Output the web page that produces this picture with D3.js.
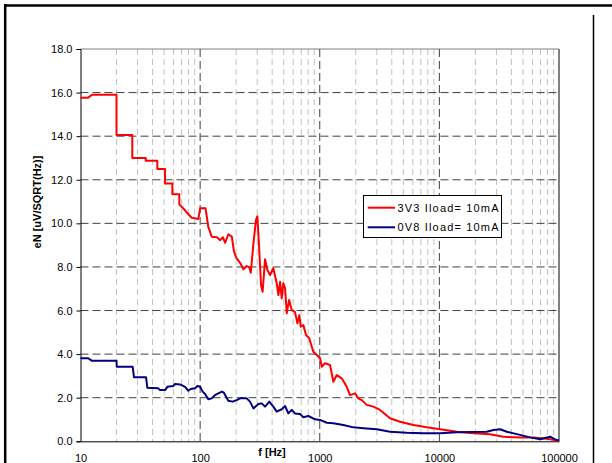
<!DOCTYPE html>
<html>
<head>
<meta charset="utf-8">
<script src="https://cdn.jsdelivr.net/npm/d3@7"></script>
<style>
  body { margin: 0; background: #fff; }
  svg { display: block; font-family: "Liberation Sans", Arial, sans-serif; }
  .tick text { font-size: 11px; fill: #000; }
</style>
</head>
<body>
<div id="chart"></div>
<script>
// 3V3 rail, Iload = 10mA
const redFreq = [10, 11.5, 12.5, 20, 20, 27.1, 27.1, 35.1, 35.1, 43.9, 43.9, 50.9, 50.9, 58.6, 58.6, 67, 67, 74.8,
  77.3, 85.1, 96.6, 100, 111, 117, 125, 138, 147, 155, 162, 172, 184, 192, 202, 216, 230, 245, 258, 265,
  279, 293, 301, 311, 323, 333, 349, 365, 384, 409, 437, 451, 466, 481, 496, 513, 530, 554, 583, 621, 650,
  675, 693, 729, 768, 818, 884, 944, 1006, 1040, 1107, 1219, 1300, 1387, 1527, 1682, 1791, 1972, 2102,
  2245, 2471, 2806, 3192, 3870, 4690, 6066, 7850, 10140, 14000, 19250, 26540, 34300, 47300, 61100, 79100, 100000];
const redVal = [15.76, 15.76, 15.9, 15.9, 14.05, 14.05, 13.0, 13.0, 12.87, 12.87, 12.49, 12.49, 11.83, 11.83, 11.33, 11.33, 10.87, 10.6,
  10.5, 10.26, 10.2, 10.69, 10.69, 9.84, 9.39, 9.36, 9.23, 9.36, 9.11, 9.5, 9.39, 8.7, 8.39, 8.19, 7.89, 8.04, 7.98, 7.73,
  9.08, 10.15, 10.33, 8.93, 7.17, 6.86, 8.35, 7.86, 7.63, 7.94, 7.25, 6.71, 7.32, 6.56, 7.25, 7.02, 5.87, 6.48, 6.02, 5.94, 5.41,
  5.79, 5.26, 5.33, 4.88, 4.72, 4.11, 3.96, 3.81, 3.42, 3.58, 3.5, 2.73, 3.04, 2.89, 2.5, 2.12, 2.2, 1.97,
  1.89, 1.67, 1.59, 1.44, 1.06, 0.9, 0.75, 0.64, 0.55, 0.44, 0.37, 0.32, 0.21, 0.18, 0.17, 0.12, 0.03];

// 0V8 rail, Iload = 10mA
const blueFreq = [10, 11.6, 12.4, 20, 20.1, 27.3, 28, 35.3, 36.2, 44.7, 46.2, 50.9, 53.2, 59.7, 61.7, 67.9, 74.8, 79.7, 83.4,
  90.6, 94.8, 100, 105, 110, 117, 125, 133, 142, 152, 158, 172, 187, 202, 216, 245, 261, 279, 307, 327, 349,
  379, 409, 437, 481, 513, 546, 583, 621, 684, 729, 803, 914, 1006, 1146, 1300, 1574, 1910, 2317, 3000,
  3870, 5340, 7350, 10140, 14000, 19250, 24900, 28300, 32200, 36600, 44400, 57300, 69500, 84300, 92700, 100000];
const blueVal = [3.81, 3.81, 3.70, 3.70, 3.42, 3.42, 2.94, 2.94, 2.46, 2.43, 2.35, 2.35, 2.50, 2.54, 2.63, 2.61, 2.5, 2.32, 2.40,
  2.43, 2.54, 2.5, 2.28, 2.17, 1.93, 1.97, 2.12, 2.2, 2.28, 2.23, 1.86, 1.82, 1.89, 1.97, 1.97, 1.82, 1.51, 1.71, 1.74, 1.59,
  1.82, 1.59, 1.36, 1.47, 1.62, 1.28, 1.44, 1.28, 1.25, 1.10, 1.16, 1.01, 0.98, 0.85, 0.83, 0.75, 0.64, 0.6, 0.55,
  0.44, 0.39, 0.37, 0.37, 0.41, 0.43, 0.44, 0.52, 0.55, 0.44, 0.33, 0.18, 0.09, 0.21, 0.09, 0.03];

const yTicks = [0, 2, 4, 6, 8, 10, 12, 14, 16, 18];
const xTicks = [10, 100, 1000, 10000, 100000];
const seriesNames = ["3V3 Iload= 10mA", "0V8 Iload= 10mA"];
const seriesColors = ["#ff0000", "#000080"];

const width = 612, height = 463;
const margin = {top: 49, right: 53, bottom: 22, left: 80.5};

const svg = d3.select("#chart").append("svg")
    .attr("width", width)
    .attr("height", height);

// outer frame
svg.append("line").attr("x1", 4).attr("x2", width).attr("y1", 5.5).attr("y2", 5.5)
   .attr("stroke", "#000").attr("stroke-width", 2.5);
svg.append("line").attr("x1", 5.2).attr("x2", 5.2).attr("y1", 4).attr("y2", height)
   .attr("stroke", "#000").attr("stroke-width", 2.5);
svg.append("line").attr("x1", 593.5).attr("x2", 593.5).attr("y1", 15).attr("y2", height)
   .attr("stroke", "#000").attr("stroke-width", 1.5);

let x = d3.scaleLog().domain([10, 100000]).range([80.5, 559]);
let y = d3.scaleLinear().domain([0, 18]).range([441.3, 49]);

let grid = svg.append("g");

// minor verticals
let minors = [];
for (let dec = 10; dec < 100000; dec *= 10) {
    for (let k = 2; k <= 9; k++) minors.push(dec * k);
}
grid.selectAll(".minor")
    .data(minors)
    .enter().append("line")
    .attr("x1", d => x(d)).attr("x2", d => x(d))
    .attr("y1", y(18)).attr("y2", y(0))
    .attr("stroke", "#c0c0c0")
    .attr("stroke-width", 1)
    .attr("stroke-dasharray", "6,4");

// horizontal major
grid.selectAll(".hmaj")
    .data(yTicks.filter(d => d > 0))
    .enter().append("line")
    .attr("x1", x(10)).attr("x2", x(100000))
    .attr("y1", d => y(d)).attr("y2", d => y(d))
    .attr("stroke", d => d == 18 ? "#808080" : "#404040")
    .attr("stroke-width", 1)
    .attr("stroke-dasharray", d => d == 18 ? null : "8,4");

// vertical decades
grid.selectAll(".vmaj")
    .data(xTicks.slice(1))
    .enter().append("line")
    .attr("x1", d => x(d)).attr("x2", d => x(d))
    .attr("y1", y(18)).attr("y2", y(0))
    .attr("stroke", d => d == 100000 ? "#808080" : "#404040")
    .attr("stroke-width", d => d == 100000 ? 2 : 1)
    .attr("stroke-dasharray", d => d == 100000 ? null : "8,4");

// axes
let yAxis = svg.append("g")
    .attr("transform", "translate(" + x(10) + ",0)")
    .call(d3.axisLeft(y).tickValues(yTicks).tickSize(4).tickPadding(4).tickFormat(d3.format(".1f")));
yAxis.select(".domain").attr("stroke", "#000");

let xAxis = svg.append("g")
    .attr("transform", "translate(0," + y(0) + ")")
    .call(d3.axisBottom(x).tickValues(xTicks).tickSize(0).tickPadding(13).tickFormat(d3.format("d")));
xAxis.select(".domain").attr("stroke", "#000");

// axis titles
svg.append("text")
    .attr("x", 272).attr("y", 456)
    .attr("text-anchor", "middle")
    .attr("font-size", "11px").attr("font-weight", "bold")
    .text("f [Hz]");

svg.append("text")
    .attr("transform", "translate(41,202) rotate(-90)")
    .attr("text-anchor", "middle")
    .attr("font-size", "11px").attr("font-weight", "bold")
    .text("eN [uV/SQRT(Hz)]");

// curves
let line = d3.line()
    .x(d => x(d[0]))
    .y(d => y(d[1]));

let series = [
    d3.zip(redFreq, redVal),
    d3.zip(blueFreq, blueVal)
];

svg.selectAll(".curve")
    .data(series)
    .enter().append("path")
    .attr("fill", "none")
    .attr("stroke", (d, i) => seriesColors[i])
    .attr("stroke-width", 2)
    .attr("stroke-linejoin", "round")
    .attr("d", line);

// legend
let legend = svg.append("g");
legend.append("rect")
    .attr("x", 363.5).attr("y", 195.5)
    .attr("width", 138).attr("height", 42)
    .attr("fill", "#fff")
    .attr("stroke", "#000").attr("stroke-width", 1);

seriesNames.forEach(function(name, i) {
    let ly = 207.7 + i * 19.6;
    legend.append("line")
        .attr("x1", 367.7).attr("x2", 395)
        .attr("y1", ly).attr("y2", ly)
        .attr("stroke", seriesColors[i]).attr("stroke-width", 2);
    legend.append("text")
        .attr("x", 397.5).attr("y", ly + 4)
        .attr("font-size", "11px")
        .attr("textLength", 101)
        .attr("lengthAdjust", "spacing")
        .text(name);
});
</script>
</body>
</html>
